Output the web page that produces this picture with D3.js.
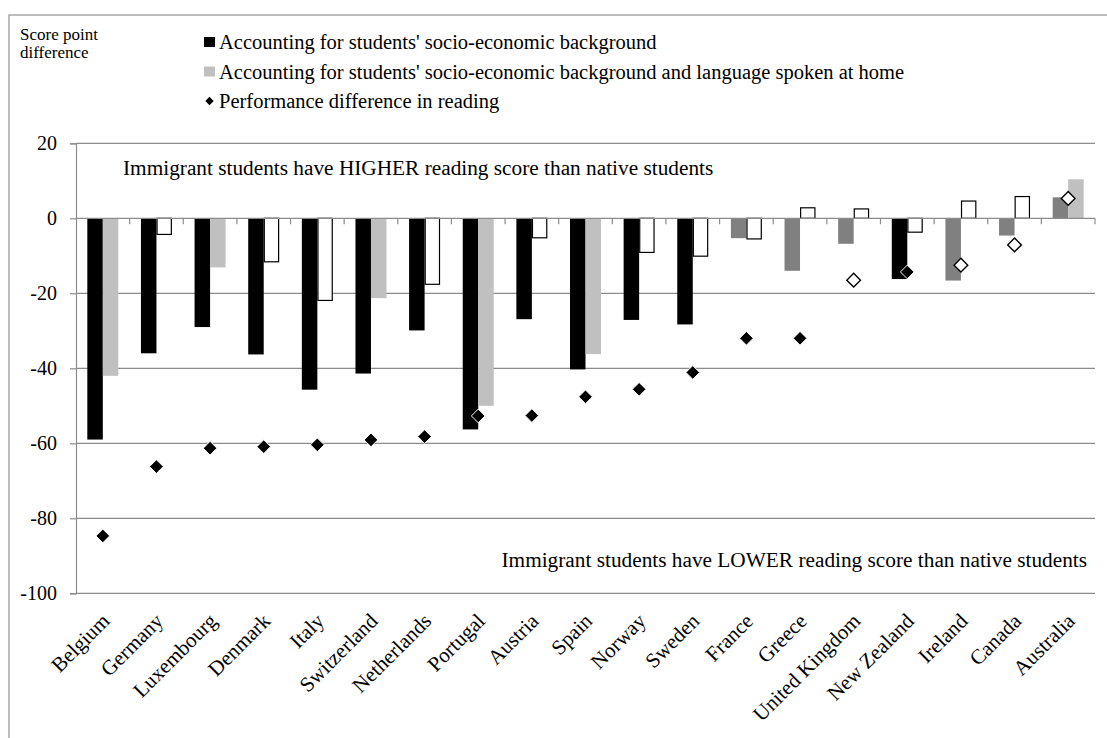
<!DOCTYPE html>
<html>
<head>
<meta charset="utf-8">
<script src="https://cdn.jsdelivr.net/npm/d3@7"></script>
<style>
  html, body { margin: 0; padding: 0; background: #fff; }
  svg { display: block; }
  svg text { font-family: "Liberation Serif", "Times New Roman", serif; fill: #000; }
</style>
</head>
<body>
<svg id="chart" width="1107" height="738"></svg>
<script>
// ---------------- data ----------------
const countries = ["Belgium", "Germany", "Luxembourg", "Denmark", "Italy", "Switzerland", "Netherlands",
  "Portugal", "Austria", "Spain", "Norway", "Sweden", "France", "Greece", "United Kingdom",
  "New Zealand", "Ireland", "Canada", "Australia"];

// Accounting for students' socio-economic background
const socioEco = [-59, -36, -29, -36.3, -45.7, -41.4, -29.9, -56.3, -26.9, -40.3, -27.1, -28.3,
  -5.3, -14, -6.8, -16.2, -16.6, -4.6, 5.6];
// 1 = statistically significant (black), 0 = not significant (dark grey)
const socioEcoSig = [1, 1, 1, 1, 1, 1, 1, 1, 1, 1, 1, 1, 0, 0, 0, 1, 0, 0, 0];

// Accounting for socio-economic background and language spoken at home
const socioEcoLang = [-42, -4.3, -13.1, -11.6, -21.9, -21.3, -17.6, -50, -5.2, -36.2, -9.1, -10.1,
  -5.5, 2.8, 2.5, -3.7, 4.6, 5.8, 10.4];
// 1 = significant (light grey), 0 = not significant (white, outlined)
const socioEcoLangSig = [1, 0, 1, 0, 0, 1, 0, 1, 0, 1, 0, 0, 0, 0, 0, 0, 0, 0, 1];

// Performance difference in reading
const reading = [-84.7, -66.2, -61.3, -60.9, -60.4, -59.1, -58.2, -52.7, -52.6, -47.6, -45.6, -41.1,
  -32, -32, -16.5, -14.3, -12.5, -7.1, 5.3];
// 1 = significant (black diamond), 0 = not significant (white diamond)
const readingSig = [1, 1, 1, 1, 1, 1, 1, 1, 1, 1, 1, 1, 1, 1, 0, 1, 0, 0, 0];

const yTicks = [20, 0, -20, -40, -60, -80, -100];

const legendLabels = [
  "Accounting for students' socio-economic background",
  "Accounting for students' socio-economic background and language spoken at home",
  "Performance difference in reading"
];
const yTitle = ["Score point", "difference"];
const noteHigher = "Immigrant students have HIGHER reading score than native students";
const noteLower = "Immigrant students have LOWER reading score than native students";

// ---------------- layout ----------------
const svg = d3.select("#chart");
const plot = { left: 76, right: 1095, top: 143.3, bottom: 593.3 };
const gridColor = "#8c8c8c";
const C = { black: "#000000", dark: "#808080", light: "#c0c0c0", white: "#ffffff" };

// outer frame (cut off at right and bottom)
svg.append("rect")
  .attr("x", 9).attr("y", 15).attr("width", 1200).attr("height", 800)
  .attr("fill", "none").attr("stroke", "#a6a6a6").attr("stroke-width", 1.5);

const x = d3.scaleBand().domain(countries).range([plot.left, plot.right]).paddingInner(0).paddingOuter(0);
const barW = 15.5;
const sub = d3.scaleBand().domain([0, 1]).range([0, barW * 2]);
const y = d3.scaleLinear().domain([-100, 20]).range([plot.bottom, plot.top]);

// gridlines
svg.append("g").selectAll("line")
  .data(yTicks.filter(v => v !== 0))
  .join("line")
  .attr("x1", plot.left).attr("x2", plot.right)
  .attr("y1", d => y(d)).attr("y2", d => y(d))
  .attr("stroke", gridColor).attr("stroke-width", 1.2);

// y axis
const yAxis = d3.axisLeft(y).tickValues(yTicks).tickSize(6).tickPadding(13).tickFormat(d => String(d));
const gy = svg.append("g").attr("transform", `translate(${plot.left},0)`).call(yAxis);
gy.attr("font-family", null).attr("font-size", null);
gy.select(".domain").attr("stroke", gridColor).attr("stroke-width", 1.2);
gy.selectAll(".tick line").attr("stroke", gridColor).attr("stroke-width", 1.2);
gy.selectAll(".tick text").style("font-size", "20px");

// bars
const offs = (x.bandwidth() - barW * 2) / 2;
const gBars = svg.append("g");
countries.forEach((c, i) => {
  const x0 = x(c) + offs;
  const v1 = socioEco[i];
  gBars.append("rect")
    .attr("x", x0 + sub(0)).attr("width", sub.bandwidth())
    .attr("y", y(Math.max(0, v1))).attr("height", Math.abs(y(v1) - y(0)))
    .attr("fill", socioEcoSig[i] ? C.black : C.dark);
  const v2 = socioEcoLang[i];
  const sig2 = socioEcoLangSig[i];
  gBars.append("rect")
    .attr("x", x0 + sub(1) + (sig2 ? 0 : 0.6)).attr("width", sub.bandwidth() - (sig2 ? 0 : 1.2))
    .attr("y", y(Math.max(0, v2))).attr("height", Math.abs(y(v2) - y(0)))
    .attr("fill", sig2 ? C.light : C.white)
    .attr("stroke", sig2 ? "none" : "#000").attr("stroke-width", 1.2);
});

// x axis (zero line with tick marks between categories)
const gx = svg.append("g").attr("transform", `translate(0,${y(0)})`);
gx.append("line").attr("x1", plot.left).attr("x2", plot.right).attr("y1", 0).attr("y2", 0)
  .attr("stroke", gridColor).attr("stroke-width", 1.2);
const boundaries = countries.map(c => x(c)).concat([plot.right]).slice(1);
gx.selectAll("line.tk").data(boundaries).join("line").attr("class", "tk")
  .attr("x1", d => d).attr("x2", d => d).attr("y1", 0).attr("y2", 6)
  .attr("stroke", gridColor).attr("stroke-width", 1.2);

// diamonds
const diamond = d3.symbol().type(d3.symbolDiamond2).size(120);
svg.append("g").selectAll("path")
  .data(countries)
  .join("path")
  .attr("d", diamond)
  .attr("transform", (c, i) => `translate(${x(c) + x.bandwidth() / 2},${y(reading[i])})`)
  .attr("fill", (c, i) => readingSig[i] ? "#000" : "#fff")
  .attr("stroke", (c, i) => readingSig[i] ? "#fff" : "#000")
  .attr("stroke-width", (c, i) => readingSig[i] ? 1 : 1.4);

// category labels
svg.append("g").selectAll("text")
  .data(countries)
  .join("text")
  .attr("transform", c => `translate(${x(c) + x.bandwidth() / 2 + 8},${y(-100) + 29}) rotate(-45)`)
  .attr("text-anchor", "end")
  .style("font-size", "21px")
  .text(c => c);

// y title
svg.append("g").selectAll("text").data(yTitle).join("text")
  .attr("x", 20).attr("y", (d, i) => 40 + i * 18)
  .style("font-size", "17px").text(d => d);

// legend
const lg = svg.append("g");
const rowY = [42, 71.5, 101];
lg.append("rect").attr("x", 204).attr("y", rowY[0] - 5).attr("width", 11).attr("height", 10).attr("fill", C.black);
lg.append("rect").attr("x", 204).attr("y", rowY[1] - 5).attr("width", 11).attr("height", 10).attr("fill", C.light);
lg.append("path").attr("d", d3.symbol().type(d3.symbolDiamond2).size(45))
  .attr("transform", `translate(209.5,${rowY[2]})`).attr("fill", "#000");
lg.selectAll("text").data(legendLabels).join("text")
  .attr("x", 219).attr("y", (d, i) => rowY[i] + 7)
  .style("font-size", "20.5px").text(d => d);

// annotations
svg.append("text").attr("x", 123).attr("y", 175).style("font-size", "21.3px").text(noteHigher);
svg.append("text").attr("x", 1087).attr("y", 567).attr("text-anchor", "end").style("font-size", "21.3px").text(noteLower);
</script>
</body>
</html>
